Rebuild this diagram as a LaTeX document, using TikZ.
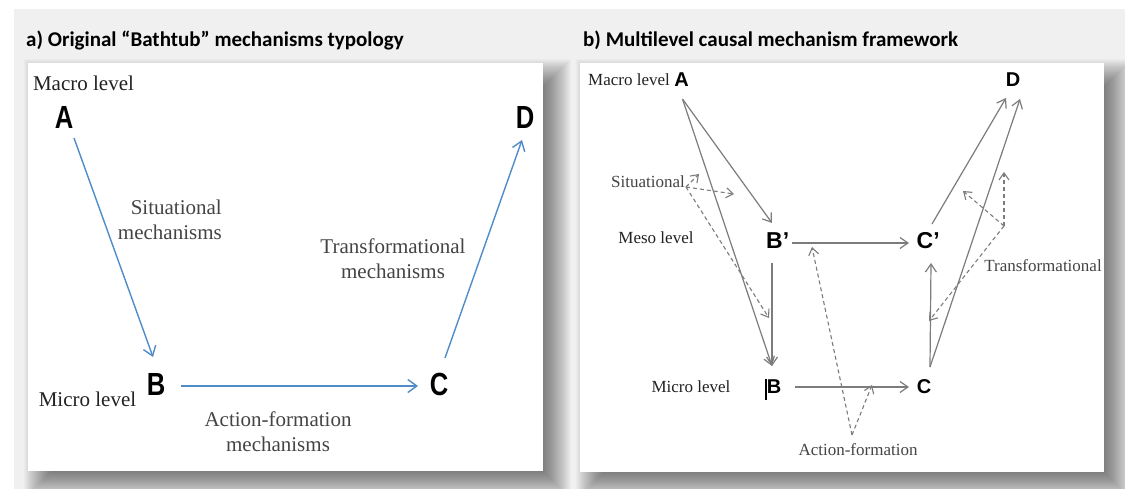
\documentclass[tikz,border=0pt]{standalone}
\usepackage{fontspec}
\setmainfont{Liberation Serif}
\newfontfamily\titlefont{Carlito}
\newfontfamily\letterfont{Liberation Sans}
\usetikzlibrary{arrows.meta}
\definecolor{pagegray}{HTML}{F0F0F0}
\definecolor{bluearrow}{RGB}{79,141,201}
\definecolor{grayarrow}{HTML}{7C7C7C}
\definecolor{labelgray}{HTML}{444444}
\definecolor{labeldark}{HTML}{222222}

\tikzset{
  paneltitle/.style={anchor=west, inner sep=0pt,
    font=\titlefont\bfseries\fontsize{21}{24}\selectfont},
  levelA/.style={inner sep=0pt, text=labeldark, font=\fontsize{21}{25}\selectfont},
  mechA/.style={inner sep=0pt, text=labelgray, font=\fontsize{21}{25}\selectfont},
  letterA/.style={inner sep=0pt, font=\letterfont\bfseries\fontsize{32}{34}\selectfont},
  levelB/.style={inner sep=0pt, text=labeldark, font=\fontsize{17}{20}\selectfont},
  mechB/.style={inner sep=0pt, text=labelgray, font=\fontsize{17}{20}\selectfont},
  letterB/.style={inner sep=0pt, font=\letterfont\bfseries\fontsize{20}{22}\selectfont},
  letterBbig/.style={inner sep=0pt, font=\letterfont\bfseries\fontsize{23}{25}\selectfont},
  bluelink/.style={draw=bluearrow, line width=1.4pt,
    -{Straight Barb[length=9pt,width=13pt,line width=1.4pt]}},
  graylink/.style={draw=grayarrow, line width=1.2pt,
    -{Straight Barb[length=8pt,width=11pt,line width=1.2pt]}},
  dashlink/.style={draw=grayarrow, line width=1.1pt, dash pattern=on 4pt off 3pt,
    -{Straight Barb[length=7pt,width=10pt,line width=1.1pt]}},
  card/.style={fill=white, draw=none},
}

% soft drop shadow behind a card: layered translucent rectangles
\newcommand{\cardshadow}[4]{%
  \foreach \k in {-12,...,16}{%
    \fill[black, opacity=0.021]
      (#1+12-\k,#2+12-\k) rectangle (#3+12+\k,#4+12+\k);
  }%
}

\begin{document}
\begin{tikzpicture}[x=1pt,y=-1pt]
  % page background
  \fill[white] (0,0) rectangle (1125,489);
  \fill[pagegray] (14,9) rectangle (1125,489);
  \useasboundingbox (0,0) rectangle (1125,489);

  % cards with shadows
  \cardshadow{28}{63}{543}{471}
  \cardshadow{580}{63}{1104}{472}
  \fill[card] (28,63) rectangle (543,471);
  \fill[card] (580,63) rectangle (1104,472);

  % titles
  \node[paneltitle] (titleA) at (26,40) {a) Original “Bathtub” mechanisms typology};
  \node[paneltitle] (titleB) at (583,40) {b) Multilevel causal mechanism framework};

  % ---------------- panel a ----------------
  \node[levelA] (aMacro) at (83.5,83) {Macro level};
  \node[levelA] (aMicro) at (87.5,399) {Micro level};
  \node[letterA] (aA) at (64,117) {\scalebox{0.8}[1]{A}};
  \node[letterA] (aD) at (525,117) {\scalebox{0.8}[1]{D}};
  \node[letterA] (aB) at (156,384) {\scalebox{0.8}[1]{B}};
  \node[letterA] (aC) at (439,384) {\scalebox{0.8}[1]{C}};
  \node[mechA, anchor=east, align=right] (aSit) at (222,219.5) {Situational\\mechanisms};
  \node[mechA, align=center] (aTrans) at (393,258.5) {Transformational\\mechanisms};
  \node[mechA, align=center] (aAct) at (278,431.5) {Action-formation\\mechanisms};

  \coordinate (aA-out) at (74,138);
  \coordinate (aB-in)  at (153,357);
  \coordinate (aB-out) at (181,386);
  \coordinate (aC-in)  at (418,386);
  \coordinate (aC-out) at (445,358);
  \coordinate (aD-in)  at (522,140);
  \draw[bluelink] (aA-out) -- (aB-in);
  \draw[bluelink] (aB-out) -- (aC-in);
  \draw[bluelink] (aC-out) -- (aD-in);

  % ---------------- panel b ----------------
  \node[levelB] (bMacro) at (629,80) {Macro level};
  \node[levelB] (bMeso) at (656,238) {Meso level};
  \node[levelB] (bMicro) at (691,387) {Micro level};
  \node[mechB] (bSit) at (648,182) {Situational};
  \node[mechB] (bTrans) at (1043,266) {Transformational};
  \node[mechB] (bAct) at (858,450) {Action-formation};

  \node[letterB] (bA) at (681.5,80) {A};
  \node[letterB] (bD) at (1013,80) {D};
  \node[letterBbig, anchor=west] (bBp) at (766,241) {B’};
  \node[letterBbig, anchor=west] (bCp) at (916.5,241) {C’};
  \node[letterB] (bB) at (774,387) {B};
  \node[letterB] (bC) at (924,387) {C};
  \draw[black, line width=1.2pt] (766,379) -- (766,400);

  \coordinate (bA-out)  at (682.5,99);
  \coordinate (bBp-in)  at (772,223);
  \coordinate (bB-in)   at (772,366);
  \coordinate (bBp-out) at (772,263);
  \coordinate (bBp-r)   at (792,243);
  \coordinate (bCp-l)   at (909,243);
  \coordinate (bB-r)    at (795,387);
  \coordinate (bC-l)    at (909,387);
  \coordinate (bC-out)  at (930,367);
  \coordinate (bCp-in)  at (931,263);
  \coordinate (bCp-out) at (932,224);
  \coordinate (bD-inL)  at (1006,98);
  \coordinate (bD-inR)  at (1020,99);

  \draw[graylink] (bA-out) -- (bBp-in);
  \draw[graylink] (bA-out) -- (bB-in);
  \draw[graylink] (bBp-out) -- (bB-in);
  \draw[graylink] (bBp-r) -- (bCp-l);
  \draw[graylink] (bB-r) -- (bC-l);
  \draw[graylink] (bC-out) -- (bCp-in);
  \draw[graylink] (bCp-out) -- (bD-inL);
  \draw[graylink] (bC-out) -- (bD-inR);

  % dashed mechanism pointers
  \coordinate (sitO) at (686,187);
  \coordinate (sit1) at (699,174);
  \coordinate (sit2) at (734,194);
  \coordinate (sit3) at (769,318);
  \draw[dashlink] (sitO) -- (sit1);
  \draw[dashlink] (sitO) -- (sit2);
  \draw[dashlink] (sitO) -- (sit3);

  \coordinate (actO) at (852,435);
  \coordinate (act1) at (812,247);
  \coordinate (act2) at (872,385);
  \draw[dashlink] (actO) -- (act1);
  \draw[dashlink] (actO) -- (act2);

  \coordinate (trO) at (1004,226);
  \coordinate (tr1) at (1004,172);
  \coordinate (tr2) at (963,191);
  \coordinate (tr3) at (929,321);
  \draw[dashlink] (trO) -- (tr1);
  \draw[dashlink] (trO) -- (tr2);
  \draw[dashlink] (trO) -- (tr3);
\end{tikzpicture}
\end{document}
